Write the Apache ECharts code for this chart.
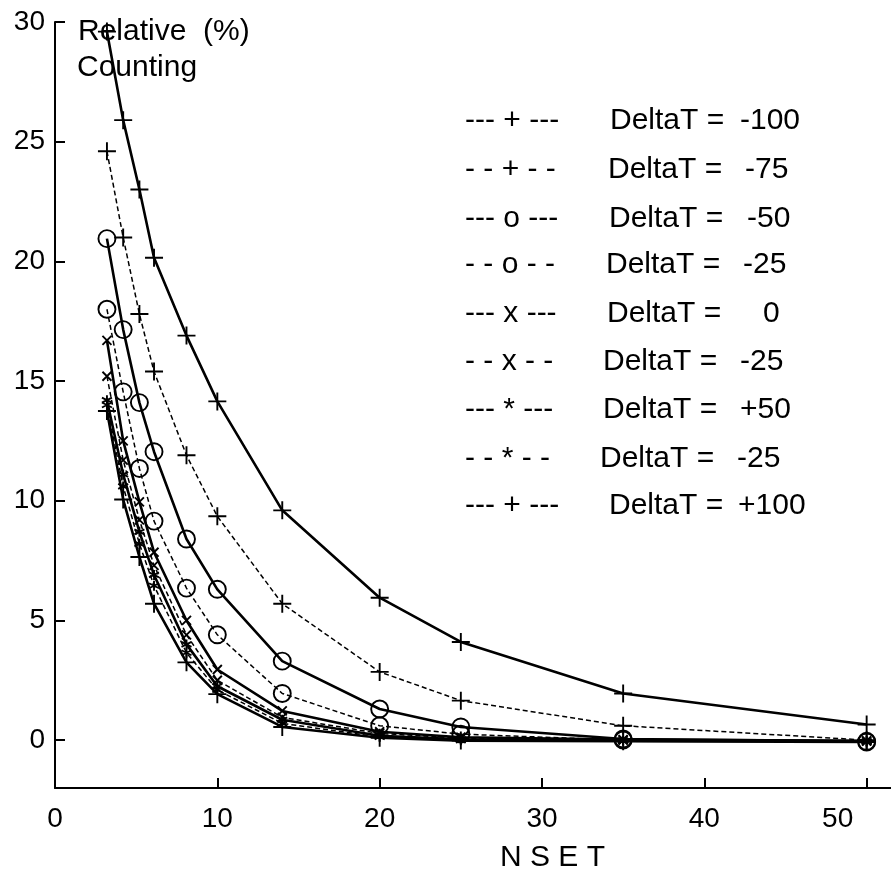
<!DOCTYPE html>
<html><head><meta charset="utf-8">
<script src="https://cdn.jsdelivr.net/npm/echarts@6/dist/echarts.min.js"></script>
<style>html,body{margin:0;padding:0;background:#fff}#c{width:891px;height:873px}</style>
</head><body><div id="c"></div>
<script>
// ---- data ----
const nset = [3.2, 4.2, 5.2, 6.1, 8.1, 10, 14, 20, 25, 35, 50];
const dtM100 = [29.6, 25.9, 23.0, 20.15, 16.9, 14.15, 9.6, 5.95, 4.1, 1.95, 0.65];
const dtM75  = [24.6, 21.0, 17.8, 15.4, 11.9, 9.35, 5.7, 2.85, 1.65, 0.6, 0.0];
const dtM50  = [20.95, 17.15, 14.1, 12.05, 8.4, 6.3, 3.3, 1.3, 0.55, 0.05, -0.05];
const dtM25a = [18.0, 14.55, 11.35, 9.15, 6.35, 4.4, 1.95, 0.6, 0.25, 0.0, -0.08];
const dt0    = [16.7, 12.5, 9.95, 7.85, 5.0, 2.95, 1.22, 0.35, 0.12, 0.02, -0.03];
const dtM25b = [15.2, 11.7, 9.2, 7.3, 4.4, 2.5, 0.95, 0.28, 0.08, 0.0, -0.04];
const dtP50  = [14.2, 11.1, 8.7, 6.9, 4.0, 2.25, 0.85, 0.18, 0.03, -0.02, -0.05];
const dtM25c = [14.0, 10.6, 8.2, 6.45, 3.65, 2.1, 0.7, 0.13, 0.0, -0.03, -0.06];
const dtP100 = [13.75, 10.05, 7.65, 5.7, 3.25, 1.92, 0.55, 0.1, -0.02, -0.05, -0.08];
const yTicks = [0, 5, 10, 15, 20, 25, 30];
const xTicks = [0, 10, 20, 30, 40, 50];
const legendMarks = ['--- + ---', '- - + - -', '--- o ---', '- - o - -', '--- x ---', '- - x - -', '--- * ---', '- - * - -', '--- + ---'];
const legendValues = ['-100', '-75', '-50', '-25', '0', '-25', '+50', '-25', '+100'];
const yTitle = ['Relative  (%)', 'Counting'];
const xTitle = 'N S E T';

// ---- styling / layout ----
const FONT = 'Liberation Sans, Arial, sans-serif';
const PLUS = 'path://M5,0L5,10M0,5L10,5';
const CROSS = 'path://M0,0L10,10M0,10L10,0';
const STAR = 'path://M5,0L5,10M0.67,2.5L9.33,7.5M0.67,7.5L9.33,2.5';
const CIRC = 'circle';

function mk(name, ys, dashed, symbol, size) {
  return {
    name: name, type: 'line',
    data: nset.map((x, i) => [x, ys[i]]),
    symbol: symbol, symbolSize: size,
    lineStyle: { color: '#000', width: dashed ? 1.5 : 2.6, type: dashed ? [5, 3] : 'solid' },
    itemStyle: { color: symbol === CIRC ? 'rgba(0,0,0,0)' : '#000', borderColor: '#000', borderWidth: 1.9 },
    emphasis: { disabled: true },
    animation: false
  };
}

const series = [
  mk('-100', dtM100, false, PLUS, 18),
  mk('-75', dtM75, true, PLUS, 18),
  mk('-50', dtM50, false, CIRC, 17),
  mk('-25a', dtM25a, true, CIRC, 17),
  mk('0', dt0, false, CROSS, 9),
  mk('-25b', dtM25b, true, CROSS, 9),
  mk('+50', dtP50, false, STAR, 10),
  mk('-25c', dtM25c, true, STAR, 10),
  mk('+100', dtP100, false, PLUS, 18)
];

const rowY = [121, 170, 219, 265, 314, 362, 410, 459, 506];
const dtX = [610, 608, 609, 606, 607, 603, 603, 600, 609];
const valX = [740, 745, 747, 743, 763, 740, 740, 737, 738];
const graphics = [];
legendMarks.forEach((m, i) => {
  graphics.push({ type: 'text', left: 465, top: rowY[i] - 15, style: { text: m, font: '30px ' + FONT, fill: '#000' } });
  graphics.push({ type: 'text', left: dtX[i], top: rowY[i] - 15, style: { text: 'DeltaT =', font: '30px ' + FONT, fill: '#000' } });
  graphics.push({ type: 'text', left: valX[i], top: rowY[i] - 15, style: { text: legendValues[i], font: '30px ' + FONT, fill: '#000' } });
});
graphics.push({ type: 'text', left: 78, top: 17, style: { text: yTitle[0], font: '30px ' + FONT, fill: '#000' } });
graphics.push({ type: 'text', left: 77, top: 53, style: { text: yTitle[1], font: '30px ' + FONT, fill: '#000' } });
graphics.push({ type: 'text', left: 500, top: 843, style: { text: xTitle, font: '30px ' + FONT, fill: '#000' } });

const chart = echarts.init(document.getElementById('c'));
chart.setOption({
  animation: false,
  backgroundColor: '#fff',
  grid: { left: 55, right: 0, top: 22, bottom: 85, containLabel: false },
  xAxis: {
    type: 'value', min: 0, max: 51.5,
    axisLine: { show: true, onZero: false, lineStyle: { color: '#000', width: 2 } },
    axisTick: { show: true, inside: true, length: 10, customValues: xTicks, lineStyle: { color: '#000', width: 2 } },
    axisLabel: {
      customValues: xTicks, margin: 17, color: '#000', fontSize: 28, fontFamily: FONT,
      formatter: v => v === 50 ? '{s|50}' : String(v),
      rich: { s: { fontSize: 28, fontFamily: FONT, color: '#000', padding: [0, 58, 0, 0] } }
    },
    splitLine: { show: false }
  },
  yAxis: {
    type: 'value', min: -2, max: 30,
    axisLine: { show: true, onZero: false, lineStyle: { color: '#000', width: 2 } },
    axisTick: { show: true, inside: true, length: 10, customValues: yTicks, lineStyle: { color: '#000', width: 2 } },
    axisLabel: { customValues: yTicks, margin: 10, color: '#000', fontSize: 28, fontFamily: FONT },
    splitLine: { show: false }
  },
  series: series,
  graphic: graphics
});
</script></body></html>
